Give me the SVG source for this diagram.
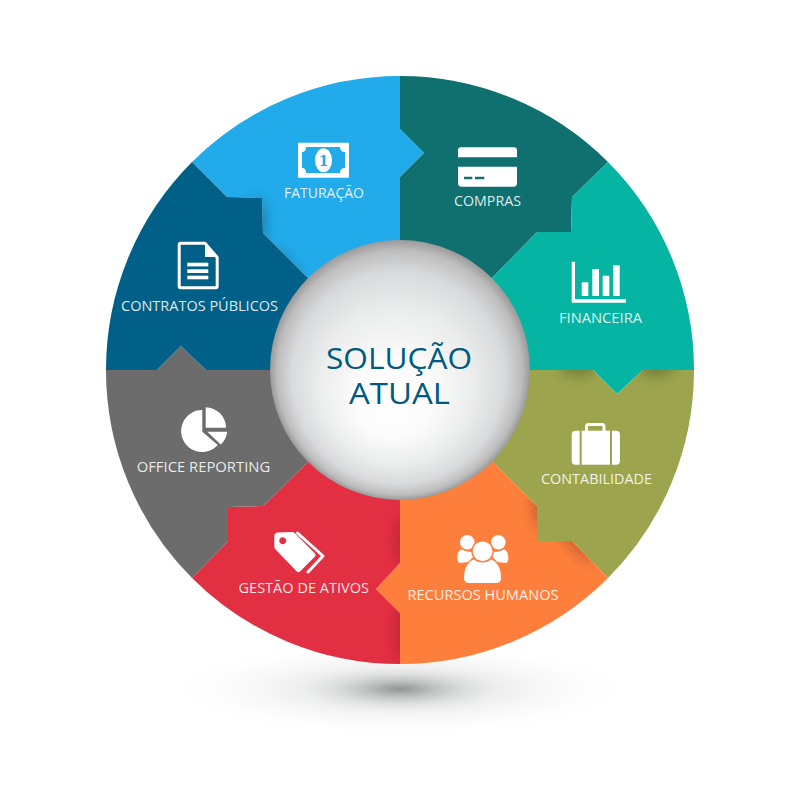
<svg xmlns="http://www.w3.org/2000/svg" width="798" height="798" viewBox="0 0 798 798">
<style>
.lbl{font-family:"Open Sans","Noto Sans","Liberation Sans",sans-serif;font-size:14px;fill:#fff;fill-opacity:.88}
.ttl{font-family:"Open Sans","Noto Sans","Liberation Sans",sans-serif;font-size:30px;fill:#00597f;text-anchor:middle}
.ic{fill:#fff}
.sh{fill:#000;filter:url(#bl)}
.ln{fill:none;stroke:#fff}
</style>
<defs>
<filter id="bl" x="-80%" y="-80%" width="260%" height="260%"><feGaussianBlur stdDeviation="7"/></filter>
<radialGradient id="sph" gradientUnits="userSpaceOnUse" cx="400" cy="370" r="130" fx="390" fy="412">
<stop offset="0" stop-color="#fff"/><stop offset=".3" stop-color="#fbfbfb"/><stop offset=".6" stop-color="#ebecec"/><stop offset=".82" stop-color="#d8d9da"/><stop offset=".94" stop-color="#bdbdbe"/><stop offset="1" stop-color="#9a9a9a"/>
</radialGradient>
<radialGradient id="g1"><stop offset="0" stop-color="#8f9294" stop-opacity=".42"/><stop offset=".3" stop-color="#9a9d9f" stop-opacity=".26"/><stop offset=".6" stop-color="#a5a8aa" stop-opacity=".1"/><stop offset=".85" stop-color="#b0b0b0" stop-opacity=".02"/><stop offset="1" stop-color="#b0b0b0" stop-opacity="0"/></radialGradient>
<radialGradient id="g2"><stop offset="0" stop-color="#555" stop-opacity=".5"/><stop offset=".35" stop-color="#666" stop-opacity=".24"/><stop offset=".7" stop-color="#777" stop-opacity=".06"/><stop offset="1" stop-color="#777" stop-opacity="0"/></radialGradient>
<clipPath id="cFat"><path d="M400,370L307,277L263,233L262,198L227,197L192,162A294,294 0 0 1 400,76L400,129L424,153L400,177Z"/></clipPath>
<clipPath id="cCon"><path d="M400,370L537,506L537,541L572,541L608,578A294,294 0 0 1 400,664L400,613L376,589L400,563Z"/></clipPath>
<clipPath id="cOli"><path d="M400,370L593,370L617,394L643,370L694,370A294,294 0 0 1 608,578L572,541L537,541L537,506Z"/></clipPath>
<clipPath id="cRed"><path d="M400,370L400,563L376,589L400,613L400,664A294,294 0 0 1 192,578L228,541L228,507L263,506L307,463Z"/></clipPath>
<path id="sideBody" d="M457.3,558C457.3,553 459,550 462,549.5C464,551 468,552 472,552L474,556L468,562L459.5,563Q457.3,562 457.3,558Z"/>
</defs>

<g id="ground-shadow">
<ellipse cx="400" cy="689" rx="225" ry="46" fill="url(#g1)"/>
<ellipse cx="400" cy="689" rx="95" ry="22" fill="url(#g2)"/>
</g>

<g id="node-faturacao">
<path d="M400,370L307,277L263,233L262,198L227,197L192,162A294,294 0 0 1 400,76L400,129L424,153L400,177Z" fill="#21abeb"/>
<g clip-path="url(#cFat)" opacity=".28"><ellipse class="sh" cx="257" cy="222" rx="8" ry="24"/><ellipse class="sh" cx="285" cy="262" rx="6" ry="22" transform="rotate(-45 285 262)" opacity=".6"/></g>
<path class="ic" fill-rule="evenodd" d="M299,142.7H348Q349,142.7 349,143.7V176.7Q349,177.7 348,177.7H299Q298,177.7 298,176.7V143.7Q298,142.7 299,142.7ZM306,147Q306,152 302,152V168Q306,168 306,173H340Q340,168 345,168V152Q340,152 340,147Z"/>
<ellipse class="ic" cx="323.5" cy="160.3" rx="8.5" ry="12"/>
<text x="323.5" y="165.5" text-anchor="middle" font-family="'DejaVu Serif',serif" font-weight="700" font-size="14" fill="#21abeb">1</text>
<text class="lbl" x="284" y="198" textLength="80" lengthAdjust="spacingAndGlyphs">FATURAÇÃO</text>
</g>

<g id="node-compras">
<path d="M400,370L400,177L424,153L400,129L400,76A294,294 0 0 1 608,162L572,197L571,232L537,232L492,278Z" fill="#107070"/>
<path class="ic" d="M461,147.3H514Q517,147.3 517,150.3V157.3H458V150.3Q458,147.3 461,147.3Z"/>
<path class="ic" fill-rule="evenodd" d="M458,166.7H517V183Q517,186.7 513.5,186.7H461.5Q458,186.7 458,183ZM464,176.7V179.3H472.3V176.7ZM475,176.7V179.3H484.3V176.7Z"/>
<text class="lbl" x="454" y="206" textLength="67" lengthAdjust="spacingAndGlyphs">COMPRAS</text>
</g>

<g id="node-financeira">
<path d="M400,370L492,278L537,232L571,232L572,197L608,162A294,294 0 0 1 694,370L643,370L617,394L593,370Z" fill="#05b4a2"/>
<path class="ic" d="M571.7,261.7H575V299.3H626V302.7H571.7Z"/>
<rect class="ic" x="581.7" y="282.3" width="6.6" height="13.7"/>
<rect class="ic" x="592.3" y="269" width="6.7" height="27"/>
<rect class="ic" x="602.7" y="275.7" width="6.6" height="20.3"/>
<rect class="ic" x="613.3" y="265.3" width="6.4" height="30.7"/>
<text class="lbl" x="559" y="323" textLength="83" lengthAdjust="spacingAndGlyphs">FINANCEIRA</text>
</g>

<g id="node-contabilidade">
<path d="M400,370L593,370L617,394L643,370L694,370A294,294 0 0 1 608,578L572,541L537,541L537,506Z" fill="#9ca54d"/>
<g clip-path="url(#cOli)" opacity=".28"><ellipse class="sh" cx="578" cy="366" rx="18" ry="9"/><ellipse class="sh" cx="656" cy="366" rx="18" ry="9"/></g>
<path class="ic" d="M579.7,430.7V464.7H575.7Q571.7,464.7 571.7,460.7V434.7Q571.7,430.7 575.7,430.7Z"/>
<rect class="ic" x="581.7" y="430.7" width="28.3" height="34"/>
<path class="ic" d="M612,430.7H616Q620,430.7 620,434.7V460.7Q620,464.7 616,464.7H612Z"/>
<rect class="ln" x="586.5" y="424.5" width="17.5" height="8" rx="2" stroke-width="3"/>
<text class="lbl" x="541" y="484" textLength="111" lengthAdjust="spacingAndGlyphs">CONTABILIDADE</text>
</g>

<g id="node-recursos-humanos">
<path d="M400,370L537,506L537,541L572,541L608,578A294,294 0 0 1 400,664L400,613L376,589L400,563Z" fill="#fe7f3b"/>
<g clip-path="url(#cCon)" opacity=".26"><ellipse class="sh" cx="541" cy="505" rx="8" ry="24"/><ellipse class="sh" cx="578" cy="545" rx="6" ry="24" transform="rotate(-45 578 545)"/></g>
<use href="#sideBody" class="ic"/>
<use href="#sideBody" class="ic" transform="translate(965.6 0) scale(-1 1)"/>
<circle class="ic" cx="467.3" cy="542.3" r="7.3"/>
<circle class="ic" cx="498.3" cy="542.3" r="7.3"/>
<circle class="ic" cx="482.6" cy="551.3" r="10.6" stroke="#fe7f3b" stroke-width="1.4"/>
<path class="ic" d="M464,578C464,566 470,560 474,559.5C478,563.5 487,563.5 491,559.5C495,560 501,566 501,578Q501,583 496,583H469Q464,583 464,578Z"/>
<text class="lbl" x="407.5" y="600" textLength="151" lengthAdjust="spacingAndGlyphs">RECURSOS HUMANOS</text>
</g>

<g id="node-gestao-de-ativos">
<path d="M400,370L400,563L376,589L400,613L400,664A294,294 0 0 1 192,578L228,541L228,507L263,506L307,463Z" fill="#e32f42"/>
<g clip-path="url(#cRed)" opacity=".18"><ellipse class="sh" cx="404" cy="632" rx="8" ry="30"/><ellipse class="sh" cx="402" cy="540" rx="6" ry="24"/></g>
<path class="ic" fill-rule="evenodd" d="M278,532.5L292,532Q294,532 295,533.2L315,553.5Q316.5,555 315,556.5L300,571.5Q298.3,573 296.8,571.5L275.6,549.5Q274.3,548.2 274.3,546.5V536Q274.5,532.7 278,532.5ZM282.7,537.2A3.5,3.5 0 1 0 282.71,537.2Z"/>
<polyline class="ln" points="297.5,533 323,556 308,572" stroke-width="3" stroke-linejoin="round" stroke-linecap="round"/>
<text class="lbl" x="238.5" y="593" textLength="130.5" lengthAdjust="spacingAndGlyphs">GESTÃO DE ATIVOS</text>
</g>

<g id="node-office-reporting">
<path d="M400,370L307,463L263,506L228,507L228,541L192,578A294,294 0 0 1 106,370L157,370L181,346L206,370Z" fill="#6c6c6c"/>
<path class="ic" d="M202.3,410V431.7L217.8,445A21,21 0 1 1 202.3,410Z"/>
<path class="ic" d="M205.7,407.3A20.4,20.4 0 0 1 226,427.7H205.7Z"/>
<path class="ic" d="M207.3,431.7H227.3A22,22 0 0 1 220.7,444.6Z"/>
<text class="lbl" x="136.7" y="471.5" textLength="133.5" lengthAdjust="spacingAndGlyphs">OFFICE REPORTING</text>
</g>

<g id="node-contratos-publicos">
<path d="M400,370L206,370L181,346L157,370L106,370A294,294 0 0 1 192,162L227,197L262,198L263,233L307,277Z" fill="#006087"/>
<path class="ln" d="M205,243.2H180.7Q179.2,243.2 179.2,244.7V286.3Q179.2,287.8 180.7,287.8H215.7Q217.2,287.8 217.2,286.3V257.5Z" stroke-width="3" stroke-linejoin="round"/>
<path class="ic" d="M205,242.5L218.2,257H205Z"/>
<rect class="ic" x="187.3" y="262.7" width="21" height="3.7"/>
<rect class="ic" x="187.3" y="269.3" width="21" height="3.7"/>
<rect class="ic" x="187.3" y="275.7" width="21" height="3.6"/>
<text class="lbl" x="121" y="310.5" textLength="157" lengthAdjust="spacingAndGlyphs">CONTRATOS PÚBLICOS</text>
</g>

<g id="node-solucao-atual">
<circle cx="400" cy="370" r="130" fill="url(#sph)"/>
<text class="ttl" x="399" y="369" textLength="146" lengthAdjust="spacingAndGlyphs">SOLUÇÃO</text>
<text class="ttl" x="399.5" y="404" textLength="101" lengthAdjust="spacingAndGlyphs">ATUAL</text>
</g>
</svg>
